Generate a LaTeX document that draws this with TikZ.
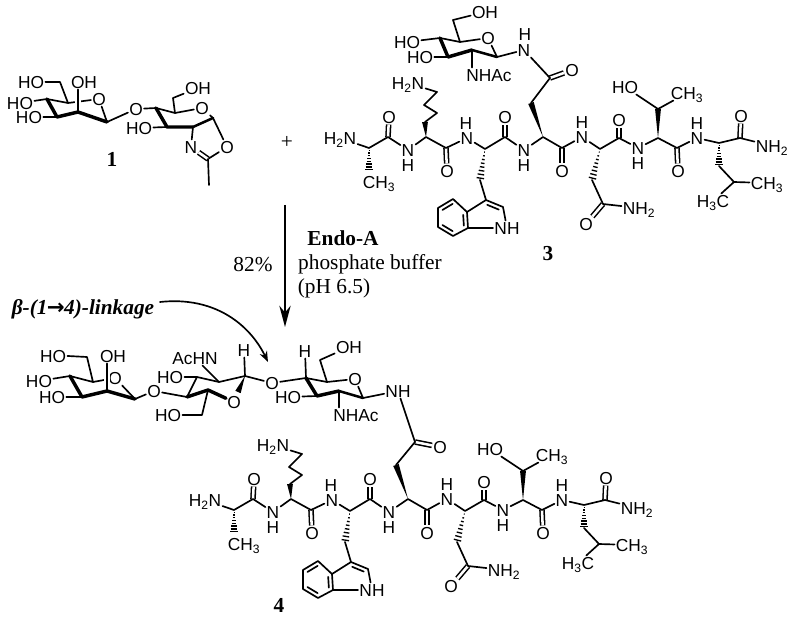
\documentclass[tikz,border=0pt]{standalone}
\usepackage{fontspec}
\setmainfont{Liberation Sans}
\newfontfamily\timesfont{Liberation Serif}
\newfontfamily\arrowfont{DejaVu Sans}
\usetikzlibrary{calc,arrows.meta}
\tikzset{
    atom/.style={inner sep=.8pt,font=\fontsize{13}{14}\selectfont,text height=9.3pt,text depth=0pt},
    serif/.style={inner sep=1pt,font=\timesfont\fontsize{16}{18}\selectfont},
    numlabel/.style={inner sep=1pt,font=\timesfont\bfseries\fontsize{16}{18}\selectfont},
    bond/.style={line width=1.25pt,line cap=round,line join=round},
    front/.style={line width=2.6pt,line cap=round,line join=round},
    dbl/.style={line width=1.15pt,double=white,double distance=1.9pt},
    halo/.style={preaction={draw,white,line width=4pt}},
}
\newcommand{\atoms}[1]{\foreach \n/\x/\y in {#1}{\coordinate (\n) at (\x,\y);}}
\newcommand{\labels}[1]{\foreach \n/\x/\y/\txt in {#1}{\node[atom] (\n) at (\x,\y) {\txt};}}
\newcommand{\wedgeb}[2]{\fill (#1) -- ($(#2)!2.2pt!90:(#1)$) -- ($(#2)!2.2pt!-90:(#1)$) -- cycle;}
\newcommand{\hashb}[2]{\foreach \pos in {0.1,0.22,...,1.0}{\draw[line width=1pt] ($(#1)!\pos!(#2)!\pos*3pt!90:(#1)$) -- ($(#1)!\pos!(#2)!\pos*3pt!-90:(#1)$);}}
\newcommand{\innerb}[3]{\draw[bond] ($(#1)!.16!(#2)!3pt!#3:(#2)$) -- ($(#2)!.16!(#1)!3pt!-#3:(#1)$);}
\newcommand{\peptide}[3]{%
\begin{scope}[shift={(#1,#2)},name prefix=#3-]
    \atoms{alaa/369/148,alab/369/171,alac/388/137,lysa/426/137,lysb/425/122,lysg/437/113,lysd/424/105,lyse/437/92,lysc/446/148,
        trpa/485/149,trpc/505/137,trpb/480/180,ind3/486/200,ind2/503/207,ind3a/467/212,ind7a/468/228,ind4/453/199,ind5/438/208,ind6/438/227,ind7/453/236,
        asna/543/137,asnb/531/103,asnc/562/148,glna/600/149,glnc/619/138,glnb/592/180,glnd/603/204,
        thra/658/138,thrb/658/109,thrc/677/148,leua/719/143,leuc/740/138,leub/719/166,leug/734/182}
    \labels{hn/340/138/H\textsubscript{2}N,alam/379/182/CH\textsubscript{3},alao/389/117/O,na/408/150/N,nah/408/165/H,
        lysn/408/83/H\textsubscript{2}N,lyso/447/171/O,nb/467/138/N,nbh/466/123/H,trpo/505/117/O,nc/524/150/N,nch/524/165/H,
        indn/507/228/NH,nd/582/137/N,ndh/582/122/H,asno/562/171/O,glno/619/120/O,ne/638/148/N,neh/638/163/H,
        glnso/586/224/O,glnn/639/208/NH\textsubscript{2},throh/625/87/HO,thrm/687/93/CH\textsubscript{3},thro/678/171/O,
        nf/697/138/N,nfh/697/123/H,leuo/741/116/O,leun/772/146/NH\textsubscript{2},leum/767/183/CH\textsubscript{3},leuk/713/201/H\textsubscript{3}C}
    \draw[dbl] (alac)--(alao);
    \draw[dbl] (lysc)--(lyso);
    \draw[dbl] (trpc)--(trpo);
    \draw[dbl] (asnc)--(asno);
    \draw[dbl] (glnc)--(glno);
    \draw[dbl] (thrc)--(thro);
    \draw[dbl] (leuc)--(leuo);
    \draw[dbl] (glnd)--(glnso);
    \draw[bond] (hn)--(alaa)--(alac)--(na)--(lysa)--(lysc)--(nb)--(trpa)--(trpc)--(nc)--(asna)--(asnc)--(nd)--(glna)--(glnc)--(ne)--(thra)--(thrc)--(nf)--(leua)--(leuc)--(leun);
    \draw[bond] (lysb)--(lysg)--(lysd)--(lyse)--(lysn);
    \draw[bond] (trpb)--(ind3)--(ind2)--(indn)--(ind7a)--(ind3a)--(ind3);
    \draw[bond] (ind3a)--(ind4)--(ind5)--(ind6)--(ind7)--(ind7a);
    \draw[bond] (glnb)--(glnd)--(glnn);
    \draw[bond] (throh)--(thrb)--(thrm);
    \draw[bond] (leub)--(leug)--(leum);
    \draw[bond] (leug)--(leuk);
    \innerb{ind3}{ind2}{-90}
    \innerb{ind3a}{ind7a}{-90}
    \innerb{ind4}{ind5}{90}
    \innerb{ind6}{ind7}{90}
    \wedgeb{lysa}{lysb}
    \wedgeb{asna}{asnb}
    \wedgeb{thra}{thrb}
    \hashb{alaa}{alab}
    \hashb{trpa}{trpb}
    \hashb{glna}{glnb}
    \hashb{leua}{leub}
\end{scope}}

\begin{document}
\begin{tikzpicture}[x=0.75pt,y=-0.75pt]
    \useasboundingbox (0,0) rectangle (800,620);

    \begin{scope}[name prefix=one-]
        \atoms{ga/107/122,gb/78/112,gc/57/117,gd/47/99,ge/68/103,gf/60/82,
            ra/213/118,rb/193/127,rc/167/127,rd/156/108,re/175/113,rf/173/98,cz/208/159,me/209/185}
        \labels{hof/31/82/HO,ohb/84/82/OH,hod/20/103/HO,hoc/29/117/HO,go/99/99/O,oa/136/109/O,
            ohf/198/88/OH,hor/139/128/HO,ro/202/108/O,nz/191/147/N,oz/227/147/O}
        \draw[bond] (ge)--(go);
        \draw[bond,halo] (gb)--(gb|-ohb.south);
        \draw[bond] (hof)--(gf)--(ge)--(gd)--(hod);
        \draw[bond] (hoc)--(gc);
        \draw[front] (gd)--(gc)--(gb)--(ga);
        \draw[bond] (go)--(ga)--(oa)--(rd)--(re)--(ro)--(ra)--(oz)--(cz);
        \draw[bond] (re)--(rf)--(ohf);
        \draw[bond] (hor)--(rc);
        \draw[front] (rd)--(rc)--(rb);
        \draw[line width=1.9pt,line cap=round] (rb)--(ra);
        \draw[bond] (rb)--(nz);
        \draw[dbl] (cz)--(nz);
        \draw[bond] (cz)--(me);
    \end{scope}
    \node[numlabel] (numone) at (112,159) {1};
    \node[serif] (plus) at (287,142) {+};

    \peptide{0}{0}{three}
    \begin{scope}[name prefix=tri-]
        \atoms{sa/497/57,sb/472/50,sc/448/57,sd/440/38,se/460/42,sf/453/20,cc/550/78}
        \labels{sg/485/12/OH,sh/407/42/HO,si/420/57/HO,so/488/38/O,sn/489/75/NHAc,nn/524/50/N,nnh/525/34/H,co/572/70/O}
        \draw[dbl] (cc)--(co);
        \draw[bond] (sh)--(sd)--(se)--(so)--(sa)--(nn)--(cc);
        \draw[bond] (se)--(sf)--(sg);
        \draw[bond] (si)--(sc);
        \draw[bond] (sb)--(sb|-sn.north);
        \draw[front] (sd)--(sc)--(sb);
        \draw[line width=1.9pt,line cap=round] (sb)--(sa);
    \end{scope}
    \draw[bond] (tri-cc)--(three-asnb);
    \node[numlabel] (numthree) at (548,254) {3};

    \coordinate (arrowtop) at (285,205);
    \coordinate (arrowtip) at (285,327);
    \draw[line width=1.6pt,-{Stealth[length=16pt,width=8.5pt]}] (arrowtop)--(arrowtip);
    \node[serif] (yield) at (253,265) {82\%};
    \node[serif,font=\timesfont\bfseries\fontsize{16}{18}\selectfont] (enzyme) at (343,238) {Endo-A};
    \node[serif] (buffer) at (370,264) {phosphate buffer};
    \node[serif] (ph) at (334,288) {(pH 6.5)};

    \peptide{-135}{362}{five}
    \begin{scope}[name prefix=four-]
        \atoms{ga/135/399,gb/107/391,gc/82/397,gd/70/376,ge/93/382,gf/87/357,gg/68/356,
            ma/245/376,mb/219/382,mc/197/377,md/187/397,me/208/390,mf/202/415,mg/183/415,mw/238/392,
            ua/363/398,ub/339/391,uc/317/396,ud/306/378,ue/327/382,uf/320/360,cc/415/442,linktip/268/362}
        \labels{hog/53/356/HO,ohb/113/356/OH,hod/39/381/HO,hoc/52/397/HO,go/115/378/O,oa/154/391/O,
            hoc2/170/377/HO,achn/195/358/AcHN,hm/244/350/H,mo/234/402/O,hof/168/415/HO,ob/272/383/O,
            hu/305/351/H,ohu/349/347/OH,uo/355/379/O,hou/288/397/HO,nhac/356/415/NHAc,nh/398/391/NH,co/440/447/O}
        \draw[dbl] (cc)--(co);
        \draw[bond] (ge)--(go);
        \draw[bond,halo] (gb)--(gb|-ohb.south);
        \draw[bond] (hog)--(gg)--(gf)--(ge)--(gd)--(hod);
        \draw[bond] (hoc)--(gc);
        \draw[front] (gd)--(gc)--(gb)--(ga);
        \draw[bond] (go)--(ga)--(oa)--(md)--(mc)--(hoc2);
        \draw[bond] (mc)--(mb)--(ma)--(ob)--(ud)--(ue)--(uo)--(ua)--(nh)--(cc);
        \draw[bond] (mb)--(achn);
        \draw[bond] (ma)--(hm);
        \draw[front] (md)--(me)--(mo);
        \draw[bond] (me)--(mf)--(mg)--(hof);
        \wedgeb{ma}{mw}
        \draw[bond] (ud)--(hu);
        \draw[bond] (ue)--(uf)--(ohu);
        \draw[bond] (hou)--(uc);
        \draw[front] (ud)--(uc)--(ub);
        \draw[line width=1.9pt,line cap=round] (ub)--(ua);
        \draw[bond] (ub)--(ub|-nhac.north);
    \end{scope}
    \draw[bond] (four-cc)--(five-asnb);
    \node[numlabel] (numfour) at (279,605) {4};

    \node[inner sep=1pt,font=\timesfont\bfseries\itshape\fontsize{16}{18}\selectfont] (link) at (83,309) {β-(1{\arrowfont\kern-.5pt→\kern-.5pt}4)-linkage};
    \coordinate (linkstart) at (160,302);
    \draw[bond,-{Stealth[length=8pt,width=6pt]}] (linkstart) .. controls (215,296) and (250,325) .. (four-linktip);
\end{tikzpicture}
\end{document}
